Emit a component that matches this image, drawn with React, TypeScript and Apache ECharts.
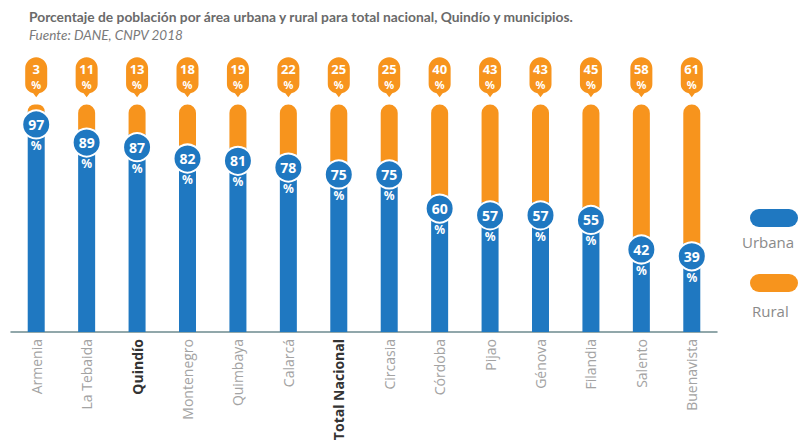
import React, { useEffect, useRef } from "react";
import * as echarts from "echarts";

const categories = [
  "Armenia", "La Tebaida", "Quindío", "Montenegro", "Quimbaya", "Calarcá", "Total Nacional",
  "Circasia", "Córdoba", "Pijao", "Génova", "Filandia", "Salento", "Buenavista",
];
const urbanValues = [97, 89, 87, 82, 81, 78, 75, 75, 60, 57, 57, 55, 42, 39];
const ruralValues = [3, 11, 13, 18, 19, 22, 25, 25, 40, 43, 43, 45, 58, 61];
const boldCategories = ["Quindío", "Total Nacional"];
const legendNames = ["Urbana", "Rural"];

const BLUE = "#1f78c1";
const ORANGE = "#f7941d";
const PIN_Y = 112;
const PIN_PATH =
  "path://M11,0 C17,0 22,5 22,11 L22,27 C22,32 18,35 14,36 L11,40 L8,36 C4,35 0,32 0,27 L0,11 C0,5 5,0 11,0 Z";
const PILL_PATH = "path://M9,0 L39,0 A9,9 0 0 1 39,18 L9,18 A9,9 0 0 1 9,0 Z";

export default function App() {
  const ref = useRef<HTMLDivElement>(null);
  useEffect(() => {
    if (!ref.current) return;
    const chart = echarts.init(ref.current, null, { renderer: "svg" });
    chart.setOption({
      animation: false,
      backgroundColor: "#ffffff",
      title: {
        text: "Porcentaje de población por área urbana y rural para total nacional, Quindío y municipios.",
        subtext: "Fuente: DANE, CNPV 2018",
        left: 24,
        top: 4,
        itemGap: 5,
        textStyle: { fontFamily: "Lato", fontSize: 13.8, fontWeight: "bold", color: "#6a6a6a" },
        subtextStyle: { fontFamily: "Lato", fontSize: 13.5, fontStyle: "italic", color: "#7a7a7a" },
      },
      legend: {
        data: legendNames,
        orient: "vertical",
        left: 745,
        top: 204,
        itemWidth: 48,
        itemHeight: 18,
        itemGap: 47,
        icon: PILL_PATH,
        formatter: () => "",
        selectedMode: false,
      },
      graphic: [
        {
          type: "text",
          left: 742,
          top: 234,
          style: { text: legendNames[0], fontFamily: "Open Sans", fontSize: 15, fill: "#8a8a8a" },
        },
        {
          type: "text",
          left: 752,
          top: 303,
          style: { text: legendNames[1], fontFamily: "Open Sans", fontSize: 15, fill: "#8a8a8a" },
        },
      ],
      grid: { left: 11, right: 84, top: 50, bottom: 113, containLabel: false },
      xAxis: {
        type: "category",
        data: categories,
        boundaryGap: true,
        axisLine: { show: true, lineStyle: { color: "#6d8a8f", width: 1.5 } },
        axisTick: { show: false },
        axisLabel: {
          rotate: 90,
          margin: 7,
          interval: 0,
          fontFamily: "Open Sans",
          fontSize: 14,
          color: "#a3a3a3",
          formatter: (v: string) => (boldCategories.includes(v) ? `{b|${v}}` : v),
          rich: {
            b: { fontFamily: "Open Sans", fontSize: 14, fontWeight: "bold", color: "#333333" },
          },
        },
      },
      yAxis: { type: "value", min: 0, max: 124, show: false, splitLine: { show: false } },
      series: [
        {
          name: "Urbana",
          type: "bar",
          stack: "total",
          barWidth: 17,
          data: urbanValues,
          itemStyle: { color: BLUE },
          label: {
            show: true,
            position: "insideTop",
            distance: 5,
            offset: [0, 23],
            formatter: "%",
            color: "#ffffff",
            fontFamily: "Noto Sans",
            fontWeight: "bold",
            fontSize: 12,
          },
        },
        {
          name: "Rural",
          type: "bar",
          stack: "total",
          barWidth: 17,
          data: ruralValues,
          itemStyle: { color: ORANGE, borderRadius: [9, 9, 0, 0] },
        },
        {
          name: "urbanCircles",
          type: "scatter",
          data: urbanValues,
          symbol: "circle",
          symbolSize: 28,
          symbolOffset: [0, 13],
          z: 5,
          silent: true,
          itemStyle: { color: BLUE, borderColor: "#ffffff", borderWidth: 2, opacity: 1 },
          label: {
            show: true,
            position: "inside",
            formatter: (p: any) => String(urbanValues[p.dataIndex]),
            color: "#ffffff",
            fontFamily: "Noto Sans",
            fontWeight: "bold",
            fontSize: 14,
          },
        },
        {
          name: "ruralPins",
          type: "scatter",
          data: ruralValues.map(() => PIN_Y),
          symbol: PIN_PATH,
          symbolSize: [22, 40],
          z: 5,
          silent: true,
          itemStyle: { color: ORANGE, opacity: 1 },
          label: {
            show: true,
            position: "inside",
            offset: [0, -1],
            formatter: (p: any) => `{n|${ruralValues[p.dataIndex]}}\n{p|%}`,
            rich: {
              n: { color: "#ffffff", fontFamily: "Noto Sans", fontWeight: "bold", fontSize: 13, lineHeight: 16 },
              p: { color: "#ffffff", fontFamily: "Noto Sans", fontWeight: "bold", fontSize: 11, lineHeight: 14 },
            },
          },
        },
      ],
    });
    return () => chart.dispose();
  }, []);
  return (
    <div
      ref={ref}
      style={{ position: "fixed", left: 0, top: 0, width: 801, height: 445 }}
    />
  );
}
